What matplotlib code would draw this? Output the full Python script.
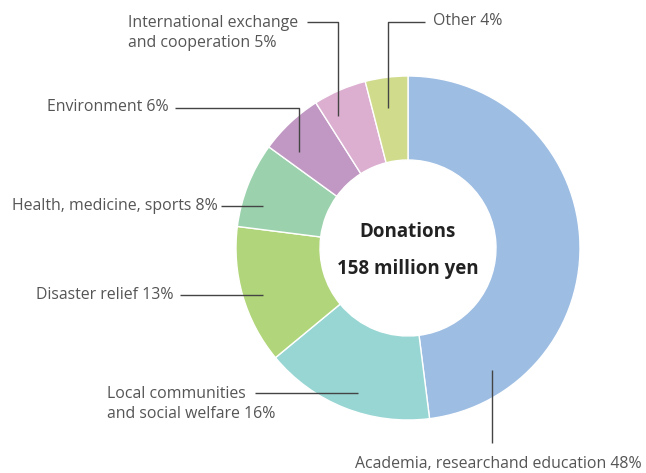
import matplotlib
matplotlib.use("Agg")
import matplotlib.pyplot as plt

plt.rcParams["font.family"] = ["Open Sans", "Noto Sans", "DejaVu Sans"]

# slices, clockwise from 12 o'clock
labels = ["Academia, researchand education 48%",
          "Local communities\nand social welfare 16%",
          "Disaster relief 13%",
          "Health, medicine, sports 8%",
          "Environment 6%",
          "International exchange\nand cooperation 5%",
          "Other 4%"]
shares = [48, 16, 13, 8, 6, 5, 4]
colors = ["#9dbde3", "#98d6d3", "#b1d57a", "#9bd2ad",
          "#c098c3", "#dcafd1", "#d0dc8c"]

W, H = 646, 473
fig = plt.figure(figsize=(W / 100, H / 100), dpi=100)
ax = fig.add_axes([0, 0, 1, 1])

cx, cy = 408, H - 248
R, r = 172, 88
ax.pie(shares, colors=colors, startangle=90, counterclock=False,
       radius=R, center=(cx, cy), frame=True,
       wedgeprops=dict(width=R - r, edgecolor="white", linewidth=1.0))
ax.set_xlim(0, W)
ax.set_ylim(0, H)
ax.set_aspect("equal")
ax.axis("off")

def y(p):
    return H - p

lc = "#444444"
tc = "#555555"
fs = 11.4

# leader lines (pixel coords, y from top)
leaders = [
    [(492, 370), (492, 443)],
    [(255, 393), (358, 393)],
    [(180, 295), (263, 295)],
    [(221, 206), (263, 206)],
    [(175, 108), (299, 108), (299, 152)],
    [(307, 22), (338, 22), (338, 116)],
    [(425, 22), (388, 22), (388, 108)],
]
for pts in leaders:
    ax.plot([p[0] for p in pts], [y(p[1]) for p in pts], color=lc, lw=1.0,
            solid_capstyle="butt")

ax.text(498, y(464), labels[0], ha="center", va="center", fontsize=fs, color=tc)
ax.text(107, y(404), labels[1], ha="left", va="center", fontsize=fs, color=tc,
        linespacing=1.3)
ax.text(174, y(295), labels[2], ha="right", va="center", fontsize=fs, color=tc)
ax.text(218, y(206), labels[3], ha="right", va="center", fontsize=fs, color=tc)
ax.text(169, y(107), labels[4], ha="right", va="center", fontsize=fs, color=tc)
ax.text(128, y(33), labels[5], ha="left", va="center", fontsize=fs, color=tc,
        linespacing=1.3)
ax.text(433, y(21), labels[6], ha="left", va="center", fontsize=fs, color=tc)

ax.text(cx, y(232), "Donations", ha="center", va="center", fontsize=13.5,
        fontweight="bold", color="#222222")
ax.text(cx, y(269), "158 million yen", ha="center", va="center", fontsize=13.5,
        fontweight="bold", color="#222222")

fig.savefig("out.png", dpi=100)
